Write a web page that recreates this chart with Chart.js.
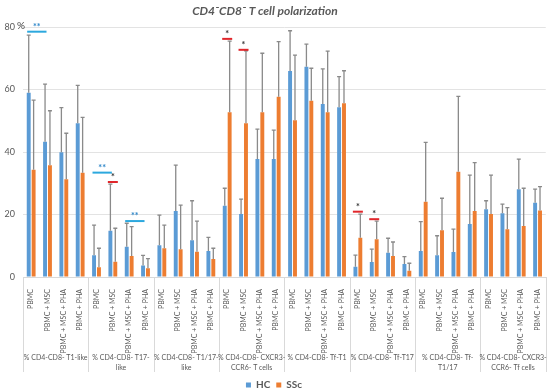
<!DOCTYPE html>
<html>
<head>
<meta charset="utf-8">
<script src="https://cdn.jsdelivr.net/npm/chart.js@4.4.1/dist/chart.umd.min.js"></script>
<style>
  html, body { margin: 0; padding: 0; background: #ffffff; }
  #wrap { width: 550px; height: 391px; position: relative; }
</style>
</head>
<body>
<div id="wrap"><canvas id="c" width="550" height="391"></canvas></div>
<script>
// ---- data ----
const chartTitle = 'CD4⁻CD8⁻ T cell polarization';
const groupNames = [
  ["% CD4-CD8- T1-like"],
  ["% CD4-CD8- T17-", "like"],
  ["% CD4-CD8- T1/17-", "like"],
  ["% CD4-CD8- CXCR3-", "CCR6- T cells"],
  ["% CD4-CD8- Tf-T1"],
  ["% CD4-CD8- Tf-T17"],
  ["% CD4-CD8- Tf-", "T1/17"],
  ["% CD4-CD8- CXCR3-", "CCR6- Tf cells"]
];
const conditions = ["PBMC", "PBMC + MSC", "PBMC + MSC + PHA", "PBMC + PHA"];
const yTicks = [0, 20, 40, 60, 80];

const hcValues = [59.0, 43.3, 39.9, 49.2,  7.0, 14.8, 9.7, 3.7,  10.2, 21.1, 11.8, 8.3,  22.8, 20.2, 37.8, 37.8,
                  65.9, 67.3, 55.4, 54.3,  3.3, 4.8, 7.8, 4.2,  8.3, 7.0, 8.0, 17.0,  21.7, 20.4, 28.1, 23.8];
const hcUpper  = [77.4, 61.7, 54.2, 61.3,  16.6, 29.7, 17.2, 6.9,  19.8, 35.8, 24.4, 12.7,  28.4, 24.9, 47.3, 47.0,
                  78.8, 74.5, 66.6, 64.1,  7.0, 8.9, 12.4, 6.5,  17.7, 13.2, 15.3, 32.6,  24.4, 23.3, 37.7, 28.1];
const sscValues = [34.3, 35.8, 31.3, 33.4,  3.1, 4.9, 6.7, 2.8,  9.2, 8.9, 8.1, 5.8,  52.7, 49.2, 52.7, 57.7,
                   50.2, 56.4, 52.7, 55.6,  12.6, 12.1, 6.7, 2.0,  24.1, 15.0, 33.7, 21.1,  20.2, 15.3, 16.3, 21.3];
const sscUpper  = [56.6, 53.2, 46.0, 51.1,  9.2, 15.6, 16.1, 5.9,  16.6, 23.0, 17.9, 9.2,  75.5, 72.4, 71.6, 75.3,
                   71.0, 66.8, 72.3, 66.0,  20.1, 17.9, 11.2, 4.4,  43.1, 25.2, 57.8, 36.6,  32.6, 22.2, 28.4, 28.9];

// significance: within-HC comparisons (blue, between two categories)
const hcSigFrom = [0, 4, 6];
const hcSigTo   = [1, 5, 7];
const hcSigY    = [78.5, 33.4, 17.9];
const hcSigText = ["**", "**", "**"];
// HC vs SSc comparisons (red, one category)
const vsSigCat  = [5, 12, 13, 20, 21];
const vsSigY    = [30.4, 76.2, 72.7, 20.9, 18.5];
const vsSigText = ["*", "*", "*", "*", "*"];

// ---- build ----
const labels = [];
groupNames.forEach(() => conditions.forEach(c => labels.push(c)));

const BLUE = '#5B9BD5', ORANGE = '#ED7D31', TXT = '#595959';
const FONT = 'Lato, "Open Sans", sans-serif';

const titlePlugin = {
  id: 'titlePlugin',
  afterDraw(chart) {
    const ctx = chart.ctx;
    ctx.save();
    ctx.font = 'italic bold 12px ' + FONT;
    ctx.fillStyle = TXT;
    ctx.textAlign = 'center';
    ctx.textBaseline = 'middle';
    ctx.fillText(chartTitle, 265, 11);
    ctx.restore();
  }
};

const errorBars = {
  id: 'errorBars',
  afterDatasetsDraw(chart) {
    const ys = chart.scales.y, ctx = chart.ctx;
    const uppers = [hcUpper, sscUpper];
    ctx.save();
    ctx.strokeStyle = '#8a8a8a';
    ctx.lineWidth = 1.3;
    chart.data.datasets.forEach((ds, i) => {
      const meta = chart.getDatasetMeta(i);
      meta.data.forEach((el, j) => {
        const yt = ys.getPixelForValue(uppers[i][j]);
        ctx.beginPath();
        ctx.moveTo(el.x, el.y);
        ctx.lineTo(el.x, yt);
        ctx.moveTo(el.x - 2, yt);
        ctx.lineTo(el.x + 2, yt);
        ctx.stroke();
      });
    });
    ctx.restore();
  }
};

const sigMarks = {
  id: 'sigMarks',
  afterDatasetsDraw(chart) {
    const xs = chart.scales.x, ys = chart.scales.y, ctx = chart.ctx;
    ctx.save();
    ctx.lineWidth = 2;
    ctx.textAlign = 'center';
    ctx.textBaseline = 'alphabetic';
    ctx.font = 'bold 9px ' + FONT;
    hcSigFrom.forEach((f, k) => {
      const x1 = xs.getPixelForValue(f) - 4;
      const x2 = xs.getPixelForValue(hcSigTo[k]) - 1;
      const y = ys.getPixelForValue(hcSigY[k]);
      ctx.strokeStyle = '#2CA8DE';
      ctx.beginPath(); ctx.moveTo(x1, y); ctx.lineTo(x2, y); ctx.stroke();
      ctx.fillStyle = '#2E86C8';
      ctx.fillText(hcSigText[k], (x1 + x2) / 2, y - 2);
    });
    vsSigCat.forEach((c, k) => {
      const xc = xs.getPixelForValue(c);
      const y = ys.getPixelForValue(vsSigY[k]);
      ctx.strokeStyle = '#E0262B';
      ctx.beginPath(); ctx.moveTo(xc - 5, y); ctx.lineTo(xc + 5, y); ctx.stroke();
      ctx.fillStyle = '#333333';
      ctx.fillText(vsSigText[k], xc, y - 2);
    });
    // percent sign next to top tick
    ctx.font = '10px ' + FONT;
    ctx.fillStyle = '#404040';
    ctx.textAlign = 'left';
    ctx.textBaseline = 'middle';
    ctx.fillText('%', chart.chartArea.left - 6, ys.getPixelForValue(80) - 1);
    ctx.restore();
  }
};

const groupAxis = {
  id: 'groupAxis',
  afterDraw(chart) {
    const xs = chart.scales.x, ctx = chart.ctx;
    const n = conditions.length;
    const half = (xs.getPixelForValue(1) - xs.getPixelForValue(0)) / 2;
    const top = xs.top, bottom = xs.top + 95;
    ctx.save();
    ctx.strokeStyle = '#d9d9d9';
    ctx.lineWidth = 1;
    for (let g = 0; g <= groupNames.length; g++) {
      const idx = g * n;
      const x = Math.round(idx < labels.length ? xs.getPixelForValue(idx) - half : xs.getPixelForValue(labels.length - 1) + half) + 0.5;
      ctx.beginPath(); ctx.moveTo(x, top); ctx.lineTo(x, bottom); ctx.stroke();
    }
    ctx.fillStyle = TXT;
    ctx.font = '7px ' + FONT;
    ctx.textAlign = 'center';
    ctx.textBaseline = 'middle';
    groupNames.forEach((lines, g) => {
      const xc = (xs.getPixelForValue(g * n) + xs.getPixelForValue(g * n + n - 1)) / 2;
      lines.forEach((ln, li) => ctx.fillText(ln, xc, top + 81 + li * 10));
    });
    ctx.restore();
  }
};

new Chart(document.getElementById('c'), {
  type: 'bar',
  data: {
    labels: labels,
    datasets: [
      { label: 'HC', data: hcValues, backgroundColor: BLUE, categoryPercentage: 0.6, barPercentage: 0.8 },
      { label: 'SSc', data: sscValues, backgroundColor: ORANGE, categoryPercentage: 0.6, barPercentage: 0.8 }
    ]
  },
  options: {
    responsive: false,
    animation: false,
    layout: { padding: { left: 0, right: 2, top: 27, bottom: -9 } },
    plugins: {
      title: { display: false },
      legend: {
        position: 'bottom',
        labels: {
          boxWidth: 5, boxHeight: 5, padding: 6,
          color: '#595959',
          font: { family: FONT, size: 10, weight: 'bold' }
        }
      },
      tooltip: { enabled: false }
    },
    scales: {
      x: {
        grid: { display: false },
        border: { display: true, color: '#d9d9d9' },
        ticks: {
          autoSkip: false, minRotation: 90, maxRotation: 90,
          padding: 4, color: TXT,
          font: { family: FONT, size: 7 }
        },
        afterFit(s) { s.height = 97; }
      },
      y: {
        min: 0, max: 80,
        afterBuildTicks(s) { s.ticks = yTicks.map(v => ({ value: v })); },
        grid: { color: '#e3e3e3', drawTicks: false },
        border: { display: false },
        ticks: { padding: 8, color: TXT, font: { family: FONT, size: 9 } },
        afterFit(s) { s.width = 23; }
      }
    }
  },
  plugins: [errorBars, sigMarks, groupAxis, titlePlugin]
});
</script>
</body>
</html>
